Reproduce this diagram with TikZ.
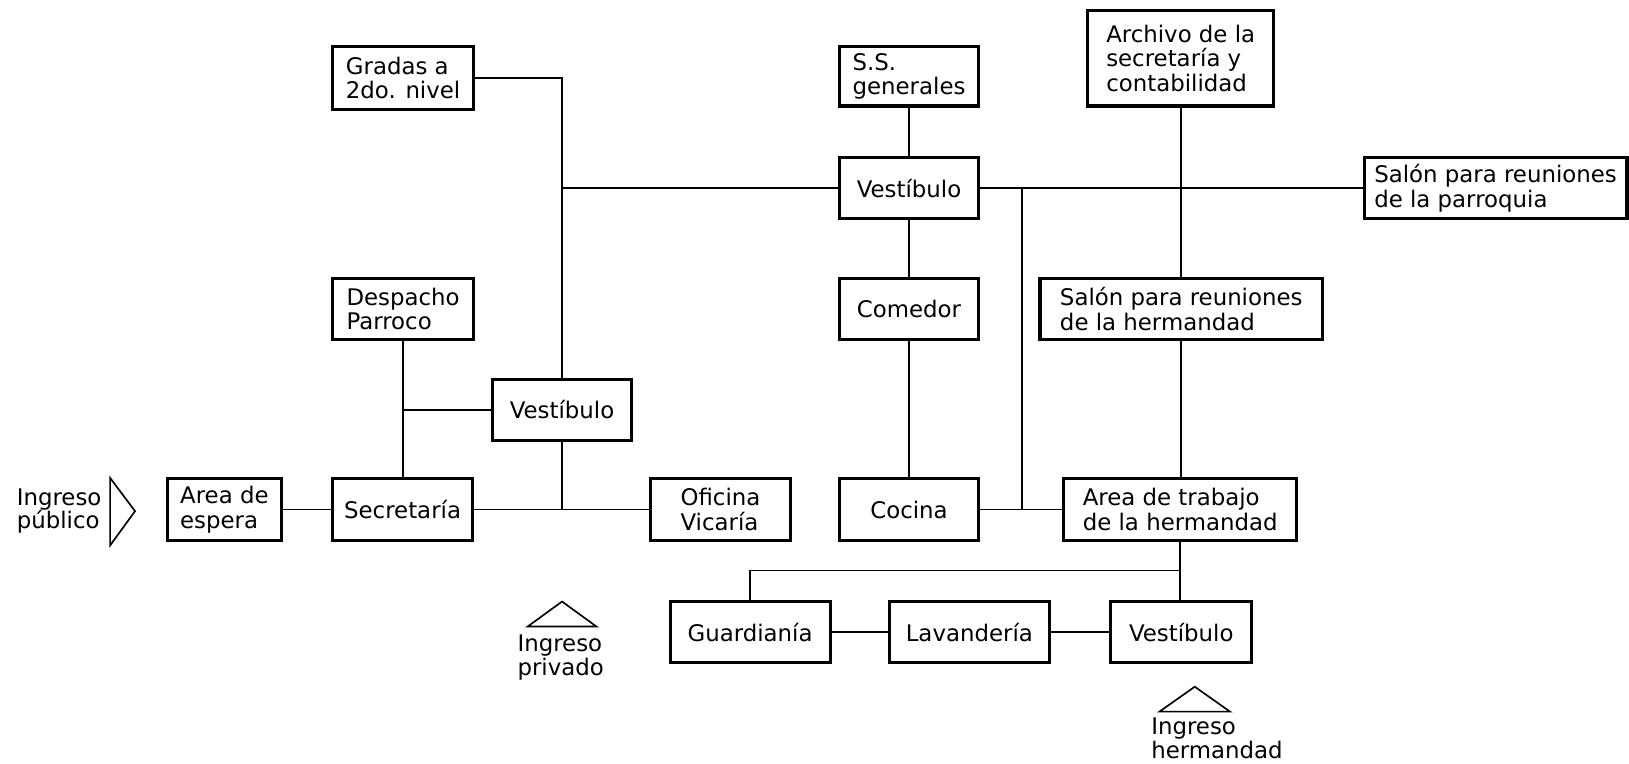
\documentclass[tikz,border=0pt]{standalone}
\usepackage{fontspec}
\setmainfont{DejaVu Sans}
\begin{document}
\begin{tikzpicture}[x=1pt,y=-1pt,
  box/.style={draw,line width=3pt,align=left,inner sep=0pt,font=\fontsize{22}{23.5}\selectfont},
  lbl/.style={align=left,inner sep=0pt,font=\fontsize{22}{22.5}\selectfont},
  con/.style={line width=1.6pt},
  tri/.style={line width=1.6pt,line join=miter}]
\useasboundingbox (0,0) rectangle (1568,735);
\newcommand\bx[6]{\node[box,minimum width={(#4-#2)*1pt},minimum height={(#5-#3)*1pt}] (#1) at ({(#2+#4)/2},{(#3+#5)/2}) {#6};}
\bx{gradas}{320}{45}{456}{105}{Gradas a\\2do. nivel}
\bx{ss}{808}{45}{942}{102}{S.S.\\generales}
\bx{archivo}{1047}{10}{1226}{102}{Archivo de la\\secretaría y\\contabilidad}
\bx{vesT}{808}{152}{942}{210}{Vestíbulo}
\bx{salonP}{1313}{152}{1566}{210}{Salón para reuniones\\de la parroquia}
\bx{despacho}{320}{268}{456}{327}{Despacho\\Parroco}
\bx{comedor}{808}{268}{942}{327}{Comedor}
\bx{salonH}{1001}{268}{1273}{327}{Salón para reuniones\\de la hermandad}
\bx{vesL}{474}{365}{608}{424}{Vestíbulo}
\bx{espera}{161}{461}{271}{520}{Area de\\espera}
\bx{secre}{320}{461}{455}{520}{Secretaría}
\bx{oficina}{626}{461}{761}{520}{Oficina\\Vicaría}
\bx{cocina}{808}{461}{942}{520}{Cocina}
\bx{trabajo}{1024}{461}{1248}{520}{Area de trabajo\\de la hermandad}
\bx{guard}{645}{579}{799}{638}{Guardianía}
\bx{lav}{856}{579}{1010}{638}{Lavandería}
\bx{vesB}{1069}{579}{1205}{638}{Vestíbulo}
% connectors
\draw[con] (gradas.east) -| (vesL.north);
\draw[con] (vesT.west) -- (vesT.west -| vesL.north);
\draw[con] (ss.south) -- (vesT.north);
\draw[con] (vesT.south) -- (comedor.north);
\draw[con] (comedor.south) -- (cocina.north);
\draw[con] (vesT.east) -- (salonP.west);
\coordinate (j1) at (984,181);
\draw[con] (j1) -- (j1 |- cocina.east);
\draw[con] (cocina.east) -- (trabajo.west);
\draw[con] (archivo.south) -- (archivo.south |- salonH.north);
\draw[con] (salonH.south) -- (salonH.south |- trabajo.north);
\draw[con] (trabajo.south) -- (trabajo.south |- vesB.north);
\coordinate (j2) at (1137,549);
\draw[con] (guard.north) |- (j2);
\draw[con] (guard.east) -- (lav.west);
\draw[con] (lav.east) -- (vesB.west);
\draw[con] (despacho.south) -- (despacho.south |- secre.north);
\draw[con] (vesL.west) -- (vesL.west -| despacho.south);
\draw[con] (vesL.south) -- (vesL.south |- secre.east);
\draw[con] (secre.east) -- (oficina.west);
\draw[con] (espera.east) -- (secre.west);
% entrance markers
\draw[tri] (106,460) -- (130,492) -- (106,525) -- cycle;
\node[lbl,anchor=west] (ingPub) at (16,492) {Ingreso\\público};
\draw[tri] (508,603) -- (541,579) -- (574,603) -- cycle;
\node[lbl,anchor=north west] (ingPriv) at (498,611) {Ingreso\\privado};
\draw[tri] (1116,685) -- (1150,661) -- (1184,685) -- cycle;
\node[lbl,anchor=north west] (ingHer) at (1108,691) {Ingreso\\hermandad};
\end{tikzpicture}
\end{document}
